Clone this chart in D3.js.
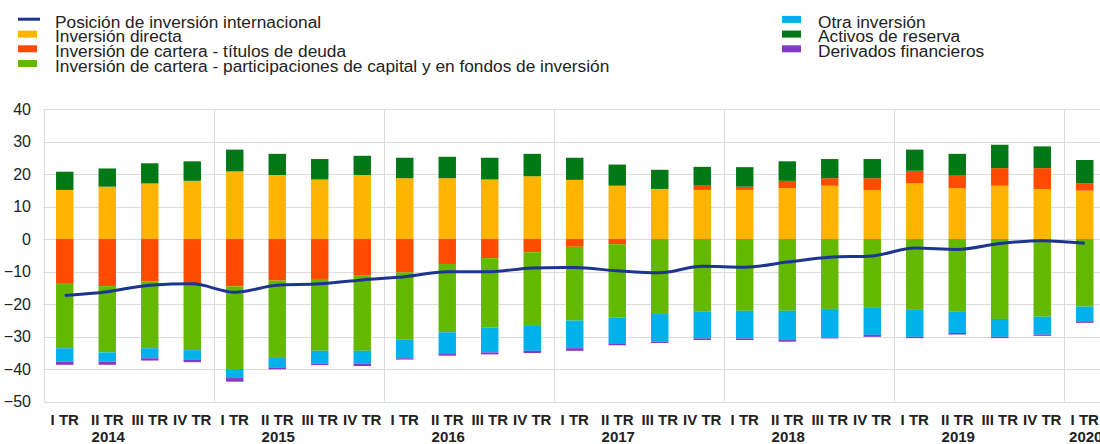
<!DOCTYPE html>
<html>
<head>
<meta charset="utf-8">
<script src="https://cdn.jsdelivr.net/npm/d3@7"></script>
<style>
  html, body { margin: 0; padding: 0; background: #fff; }
  svg { display: block; font-family: "Liberation Sans", Arial, sans-serif; }
</style>
</head>
<body>
<svg id="chart" width="1100" height="444"></svg>
<script>
// ---- data ----
const years = ["2014", "2015", "2016", "2017", "2018", "2019", "2020"];
const quarterNames = ["I TR", "II TR", "III TR", "IV TR"];
const periods = [
  "2014Q1","2014Q2","2014Q3","2014Q4",
  "2015Q1","2015Q2","2015Q3","2015Q4",
  "2016Q1","2016Q2","2016Q3","2016Q4",
  "2017Q1","2017Q2","2017Q3","2017Q4",
  "2018Q1","2018Q2","2018Q3","2018Q4",
  "2019Q1","2019Q2","2019Q3","2019Q4",
  "2020Q1"
];
const directInv = [15.1,16.1,17.1,17.9, 20.8,19.7,18.3,19.7, 18.7,18.7,18.3,19.3, 18.2,16.4,15.4,15.1, 15.1,15.7,16.4,15.1, 17.1,15.7,16.4,15.4, 14.9];
const debtSec   = [-13.8,-14.5,-13.1,-13.6, -14.6,-12.8,-12.3,-11.3, -10.3,-7.7,-5.9,-4.1, -2.4,-1.6,0.0,1.3, 1.0,2.2,2.3,3.6, 3.9,4.0,5.4,6.4, 2.2];
const equity    = [-19.8,-20.4,-20.5,-20.6, -25.4,-23.8,-22.1,-23.1, -20.7,-21.0,-21.3,-22.4, -22.7,-22.5,-23.1,-22.4, -22.1,-22.1,-21.5,-21.2, -21.8,-22.4,-24.6,-23.9, -20.8];
const otherInv  = [-4.1,-2.8,-3.1,-3.0, -2.8,-2.9,-3.9,-3.9, -5.7,-6.7,-7.7,-7.9, -8.5,-8.2,-8.5,-8.2, -8.5,-9.0,-8.8,-8.3, -8.3,-6.5,-5.5,-5.5, -4.5];
const reserves  = [5.6,5.6,6.2,6.0, 6.7,6.5,6.3,5.9, 6.3,6.6,6.7,6.9, 6.8,6.5,5.9,5.8, 6.0,6.0,5.9,5.9, 6.5,6.5,7.2,6.7, 7.2];
const derivs    = [-1.0,-1.0,-0.7,-0.7, -1.1,-0.6,-0.5,-0.8, -0.4,-0.5,-0.6,-0.7, -0.8,-0.4,-0.4,-0.5, -0.5,-0.5,-0.3,-0.6, -0.4,-0.5,-0.4,-0.4, -0.5];
const netPos    = [-17.4,-16.2,-14.2,-13.8, -16.4,-14.2,-13.8,-12.6, -11.6,-10.1,-10.1,-8.9, -8.8,-9.8,-10.4,-8.4, -8.7,-7.1,-5.6,-5.2, -2.8,-3.2,-1.4,-0.5, -1.3];
const yTicks = [40,30,20,10,0,-10,-20,-30,-40,-50];

const legendLeft = [
  {key:"net", label:"Posición de inversión internacional", type:"line"},
  {key:"direct", label:"Inversión directa"},
  {key:"debt", label:"Inversión de cartera - títulos de deuda"},
  {key:"equity", label:"Inversión de cartera - participaciones de capital y en fondos de inversión"}
];
const legendRight = [
  {key:"other", label:"Otra inversión"},
  {key:"reserves", label:"Activos de reserva"},
  {key:"deriv", label:"Derivados financieros"}
];

const colors = {
  net: "#1c3591", direct: "#ffb400", debt: "#ff4b00", equity: "#65b800",
  other: "#00b1ea", reserves: "#007816", deriv: "#8139c6"
};

// ---- build table ----
const rows = periods.map((p, i) => ({
  period: p,
  direct: directInv[i], debt: debtSec[i], equity: equity[i],
  other: otherInv[i], reserves: reserves[i], deriv: derivs[i], net: netPos[i]
}));
const keys = ["direct", "debt", "equity", "other", "reserves", "deriv"];
const series = d3.stack().keys(keys).offset(d3.stackOffsetDiverging)(rows);

// ---- scales ----
const svg = d3.select("#chart");
const step = 42.5;
const x0 = 43.5;
const x = d3.scaleBand().domain(periods)
  .range([x0, x0 + step * periods.length])
  .paddingInner(0.59).paddingOuter(0.295);
const y = d3.scaleLinear().domain([-50, 40]).range([401.5, 109]);
const plotRight = 1100;

// gridlines
svg.append("g").selectAll("line").data(yTicks).join("line")
  .attr("x1", x0).attr("x2", plotRight)
  .attr("y1", d => Math.round(y(d)) + 0.5).attr("y2", d => Math.round(y(d)) + 0.5)
  .attr("stroke", "#dcdcdc").attr("stroke-width", 1);

// vertical separators (left edge + year boundaries)
const yearStarts = years.map(yr => periods.indexOf(yr + "Q1"));
svg.append("g").selectAll("line").data(yearStarts).join("line")
  .attr("x1", i => Math.round(x0 + i * step) + 0.5)
  .attr("x2", i => Math.round(x0 + i * step) + 0.5)
  .attr("y1", y(40)).attr("y2", y(-50))
  .attr("stroke", "#dcdcdc").attr("stroke-width", 1);

// y-axis labels
const yAxis = d3.axisLeft(y).tickValues(yTicks).tickSize(0).tickPadding(0);
const gy = svg.append("g").attr("transform", "translate(31,0)").call(yAxis);
gy.select(".domain").remove();
gy.selectAll("text").attr("font-size", 16).attr("fill", "#222")
  .attr("font-family", "Liberation Sans, Arial, sans-serif");

// bars
svg.append("g").selectAll("g").data(series).join("g")
  .attr("fill", d => colors[d.key])
  .selectAll("rect").data(d => d).join("rect")
  .attr("x", d => x(d.data.period))
  .attr("width", x.bandwidth())
  .attr("y", d => y(Math.max(d[0], d[1])))
  .attr("height", d => Math.abs(y(d[0]) - y(d[1])));

// line
const line = d3.line()
  .x(d => x(d.period) + x.bandwidth() / 2)
  .y(d => y(d.net))
  .curve(d3.curveMonotoneX);
svg.append("path").datum(rows)
  .attr("d", line)
  .attr("fill", "none").attr("stroke", colors.net).attr("stroke-width", 3);

// x-axis quarter labels
const xAxis = d3.axisBottom(x).tickSize(0).tickPadding(0)
  .tickFormat(p => quarterNames[+p.slice(-1) - 1]);
const gx = svg.append("g").attr("transform", "translate(0,414)").call(xAxis);
gx.select(".domain").remove();
gx.selectAll("text").attr("font-size", 15).attr("font-weight", "bold")
  .attr("fill", "#222").attr("dy", "0.71em")
  .attr("font-family", "Liberation Sans, Arial, sans-serif");

// year labels
svg.append("g").selectAll("text").data(years).join("text")
  .attr("x", yr => {
    const qs = periods.filter(p => p.startsWith(yr));
    const p = qs[Math.min(1, qs.length - 1)];
    return x(p) + x.bandwidth() / 2 + 1;
  })
  .attr("y", 442)
  .attr("text-anchor", "middle")
  .attr("font-size", 15).attr("font-weight", "bold").attr("fill", "#222")
  .text(d => d);

// legend
function drawLegend(items, sx, tx) {
  const g = svg.append("g");
  items.forEach((it, i) => {
    const base = 27.7 + i * 14.7;
    if (it.type === "line") {
      g.append("rect").attr("x", sx).attr("y", base - 10).attr("width", 22).attr("height", 3)
        .attr("fill", colors[it.key]);
    } else {
      g.append("rect").attr("x", sx).attr("y", base - 11.8).attr("width", 19).attr("height", 7)
        .attr("fill", colors[it.key]);
    }
    g.append("text").attr("x", tx).attr("y", base)
      .attr("font-size", 17.3).attr("fill", "#222").text(it.label);
  });
}
drawLegend(legendLeft, 18, 55);
drawLegend(legendRight, 782, 818);
</script>
</body>
</html>
